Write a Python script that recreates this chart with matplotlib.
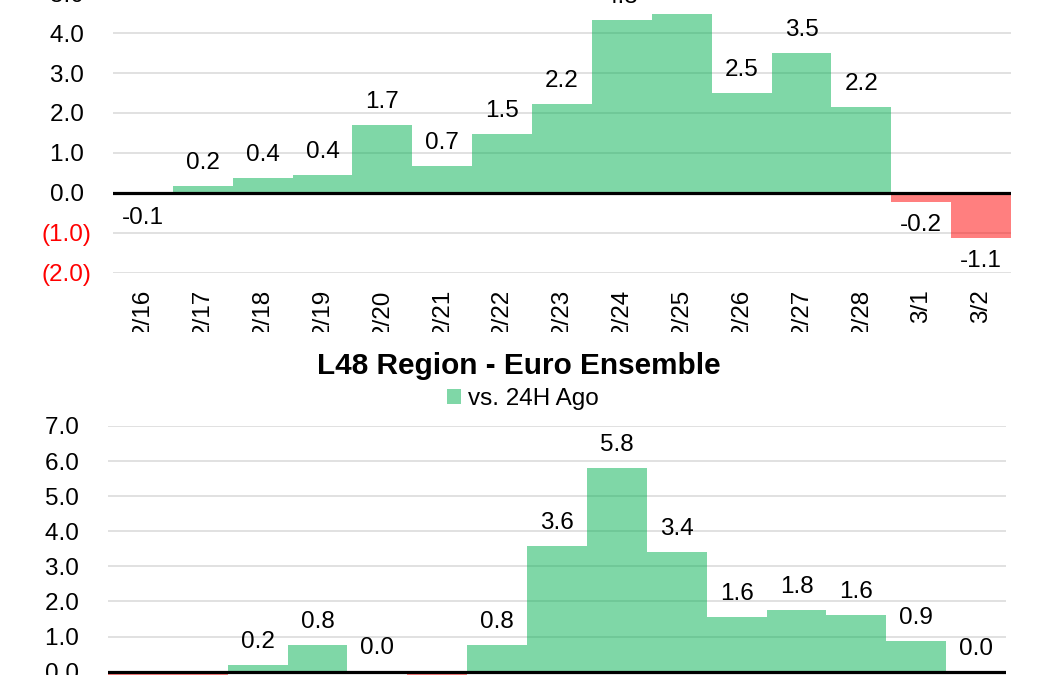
import matplotlib
matplotlib.use("Agg")
import matplotlib.pyplot as plt
from matplotlib.patches import Patch, Rectangle

plt.rcParams['font.family'] = ['Liberation Sans', 'DejaVu Sans']

dates = ['2/16', '2/17', '2/18', '2/19', '2/20', '2/21', '2/22', '2/23',
         '2/24', '2/25', '2/26', '2/27', '2/28', '3/1', '3/2']
top_vals = [-0.06, 0.17, 0.36, 0.44, 1.70, 0.68, 1.48, 2.23,
            4.32, 4.47, 2.51, 3.49, 2.16, -0.23, -1.13]
bot_vals = [-0.4, -0.3, 0.19, 0.76, 0.02, -0.2, 0.76, 3.58,
            5.80, 3.41, 1.56, 1.76, 1.62, 0.88, 0.0]
top_ticks = [-2, -1, 0, 1, 2, 3, 4, 5]
bot_ticks = [-1, 0, 1, 2, 3, 4, 5, 6, 7]
bot_title = 'L48 Region - Euro Ensemble'
legend_label = 'vs. 24H Ago'

W, H = 1044, 675
GREEN = '#00B050'
RED = '#FF0000'
GRID = '#D9D9D9'
FS = 17.5

fig = plt.figure(figsize=(W / 100, H / 100), dpi=100)


def px_axes(left, right, y_top, y_bottom):
    return fig.add_axes([left / W, (H - y_bottom) / H,
                         (right - left) / W, (y_bottom - y_top) / H])


def fmt(v):
    if v < 0:
        return f'({abs(v):.1f})'
    return f'{v:.1f} '


def style(ax, vals, ticks, ylim):
    x = list(range(len(vals)))
    colors = [GREEN if v >= 0 else RED for v in vals]
    ax.bar(x, vals, width=1.0, color=colors, alpha=0.5, zorder=2, linewidth=0)
    ax.set_xlim(-0.5, len(vals) - 0.5)
    ax.set_ylim(*ylim)
    ax.set_yticks(ticks)
    labs = ax.set_yticklabels([fmt(t) for t in ticks], fontsize=FS)
    for t, lab in zip(ticks, labs):
        lab.set_color('red' if t < 0 else 'black')
    ax.grid(axis='y', color=GRID, linewidth=1.1, zorder=1)
    ax.set_axisbelow(True)
    for s in ax.spines.values():
        s.set_visible(False)
    ax.tick_params(axis='both', length=0)
    ax.tick_params(axis='y', pad=15.8)
    ax.axhline(0, color='black', linewidth=2.3, zorder=3)
    ax.set_xticks(x)
    ax.set_xticklabels(dates, rotation=90, fontsize=FS, va='top')
    ax.tick_params(axis='x', pad=12)
    for xi, v in zip(x, vals):
        off = 23 if v >= 0 else -23
        ax.annotate(f'{v:.1f}', (xi, v), xytext=(0, off),
                    textcoords='offset pixels', ha='center', va='center',
                    fontsize=FS, annotation_clip=False, zorder=4)


# top chart: 40 px per unit, zero at y=192.7
ax1 = px_axes(113, 1011, 192.7 - 5 * 39.9, 192.7 + 2 * 39.9)
style(ax1, top_vals, top_ticks, (-2, 5))

# bottom chart: 35.1 px per unit, zero at y=671.6
ax2 = px_axes(108, 1006, 671.6 - 7 * 35.1, 671.6 + 1 * 35.1)
style(ax2, bot_vals, bot_ticks, (-1, 7))

# clip the tick labels of the top chart where its chart area ends
fig.patches.append(Rectangle((0, (H - 349) / H), 1, 17 / H,
                             transform=fig.transFigure, facecolor='white',
                             edgecolor='none', zorder=10))

fig.text(519 / W, (H - 366) / H, bot_title, ha='center', va='center',
         fontsize=21.4, fontweight='bold', zorder=11)
leg = fig.legend(handles=[Patch(facecolor=GREEN, alpha=0.5, label=legend_label)],
                 loc='center', bbox_to_anchor=(523 / W, (H - 399) / H),
                 frameon=False, fontsize=FS, handlelength=0.55, handleheight=0.55,
                 handletextpad=0.3, borderpad=0, borderaxespad=0)
leg.set_zorder(11)

fig.savefig('out.png', dpi=100)
